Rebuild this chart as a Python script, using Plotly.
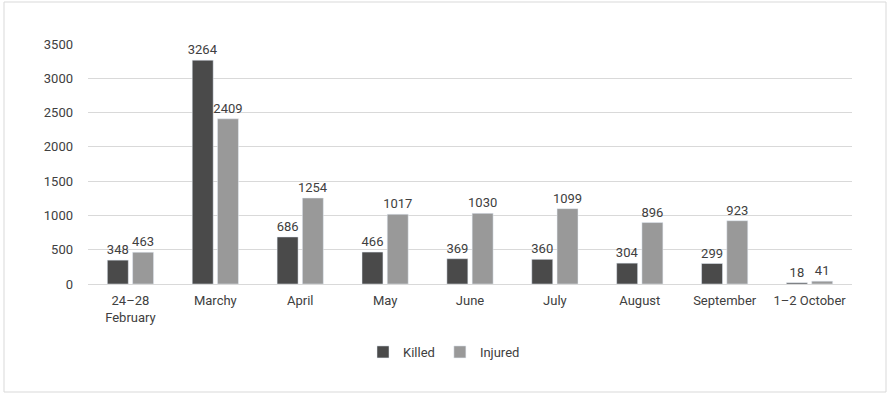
import plotly.graph_objects as go

categories = ["24–28<br>February", "Marchy", "April", "May", "June", "July", "August", "September", "1–2 October"]
killed = [348, 3264, 686, 466, 369, 360, 304, 299, 18]
injured = [463, 2409, 1254, 1017, 1030, 1099, 896, 923, 41]
y_ticks = [0, 500, 1000, 1500, 2000, 2500, 3000, 3500]

FONT = "Roboto, Noto Sans, sans-serif"
TXT = "#404040"

fig = go.Figure()
fig.add_trace(go.Bar(name="Killed", x=categories, y=killed, marker_color="#4a4a4a",
                     text=[str(v) for v in killed], textposition="outside",
                     textfont=dict(size=13, color=TXT, family=FONT),
                     constraintext="none", cliponaxis=False))
fig.add_trace(go.Bar(name="Injured", x=categories, y=injured, marker_color="#999999",
                     text=[str(v) for v in injured], textposition="outside",
                     textfont=dict(size=13, color=TXT, family=FONT),
                     constraintext="none", cliponaxis=False))

L, R, T, B = 88, 38, 44, 111
W, H = 890, 395
pw, ph = W - L - R, H - T - B

fig.update_layout(
    width=W, height=H,
    margin=dict(l=L, r=R, t=T, b=B),
    paper_bgcolor="white", plot_bgcolor="white",
    font=dict(family=FONT, size=13, color=TXT),
    barmode="group", bargap=0.405, bargroupgap=0.17,
    showlegend=True,
    legend=dict(orientation="h", x=(444 - L) / pw, xanchor="center",
                y=(T + ph - 352) / ph, yanchor="middle",
                itemwidth=30, font=dict(size=13, color=TXT, family=FONT),
                tracegroupgap=0),
    xaxis=dict(showgrid=False, showline=False, ticks="", tickfont=dict(size=13),
               ticklabelstandoff=7),
    yaxis=dict(range=[0, 3500], tickvals=y_ticks, showgrid=True, gridcolor="#d9d9d9",
               gridwidth=1, zeroline=True, zerolinecolor="#d9d9d9", zerolinewidth=1,
               showline=False, ticks="", ticklabelstandoff=14, tickfont=dict(size=13)),
    shapes=[dict(type="rect", xref="paper", yref="paper",
                 x0=(4 - L) / pw, x1=(886 - L) / pw,
                 y0=(T + ph - 392) / ph, y1=(T + ph - 2) / ph,
                 line=dict(color="#d9d9d9", width=1), fillcolor="rgba(0,0,0,0)", layer="below")],
)

fig.write_html("out.html")
